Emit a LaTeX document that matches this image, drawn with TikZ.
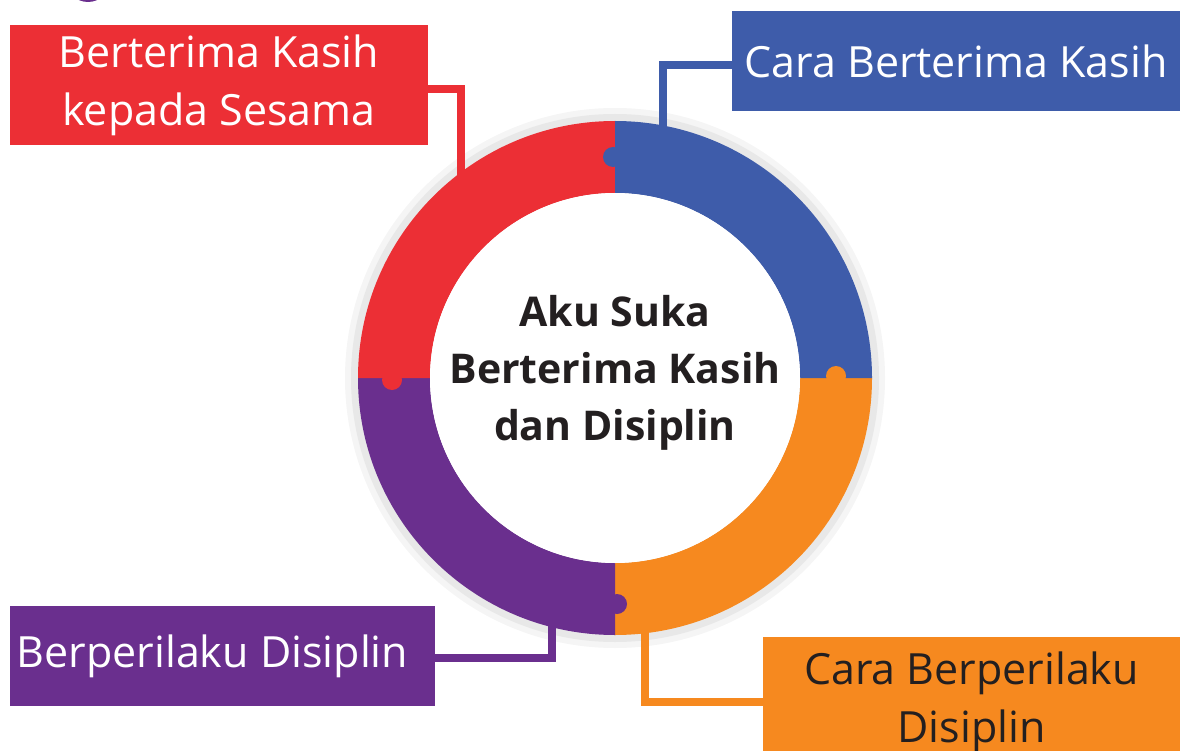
\documentclass[tikz,border=0pt]{standalone}
\usepackage{fontspec}
\setmainfont{Open Sans}
\definecolor{cred}{HTML}{EC2F35}
\definecolor{cblue}{HTML}{3E5CAA}
\definecolor{corange}{HTML}{F6891F}
\definecolor{cpurple}{HTML}{6A2F8E}
\definecolor{cdark}{HTML}{231F20}
\tikzset{
  box/.style={rectangle, inner sep=0pt, align=center, font=\fontsize{43}{58}\selectfont},
  link/.style={line width=8pt}
}

\begin{document}
\begin{tikzpicture}[x=1pt, y=-1pt]
\useasboundingbox (0,0) rectangle (1180,751);
\clip (0,0) rectangle (1180,751);
\fill[cpurple] (88,-20) circle (22);

% boxes
\node[box, fill=cred, text=white, minimum width=418pt, minimum height=120pt] (kepada) at (219,85) {Berterima Kasih\\kepada Sesama};
\node[box, fill=cblue, text=white, minimum width=448pt, minimum height=100pt] (cara) at (956,61) {Cara Berterima Kasih};
\node[box, fill=cpurple, text=white, minimum width=425pt, minimum height=100pt] (perilaku) at (222.5,656) {Berperilaku Disiplin\hspace*{20pt}};
\node[box, fill=corange, text=cdark, minimum width=417pt, minimum height=130pt] (caradisiplin) at (971.5,702) {Cara Berperilaku\\Disiplin};

% ring
\coordinate (o) at (615,378);
\fill[black!4] (o) circle (270);
\fill[black!9] (o) circle (264);

\coordinate (kepadaend) at (461,200);
\coordinate (caraend) at (663,150);
\coordinate (perilakuend) at (552,600);
\coordinate (caradisiplinend) at (645,600);
\draw[link, cred] ([yshift=-4pt]kepada.east) -| (kepadaend);
\draw[link, cblue] ([yshift=-4pt]cara.west) -| (caraend);
\draw[link, cpurple] ([yshift=-2pt]perilaku.east) -| (perilakuend);
\draw[link, corange] (caradisiplin.west) -| (caradisiplinend);

\foreach \a/\c in {0/corange, 90/cpurple, 180/cred, 270/cblue}
{
  \fill[\c] (o) ++(\a:257) arc[start angle=\a, delta angle=90, radius=257]
    -- ++(\a+90:-72) arc[start angle=\a+90, delta angle=-90, radius=185] -- cycle;
}
\fill[white] (o) circle (185);
\fill[cblue] (613,157) circle (10);
\fill[cred] (392,380) circle (10);
\fill[corange] (836,376) circle (10);
\fill[cpurple] (617,604) circle (10);

\node[font=\bfseries\fontsize{41}{57}\selectfont, text=cdark, align=center] (judul) at (615,373) {Aku Suka\\Berterima Kasih\\dan Disiplin};
\end{tikzpicture}
\end{document}
